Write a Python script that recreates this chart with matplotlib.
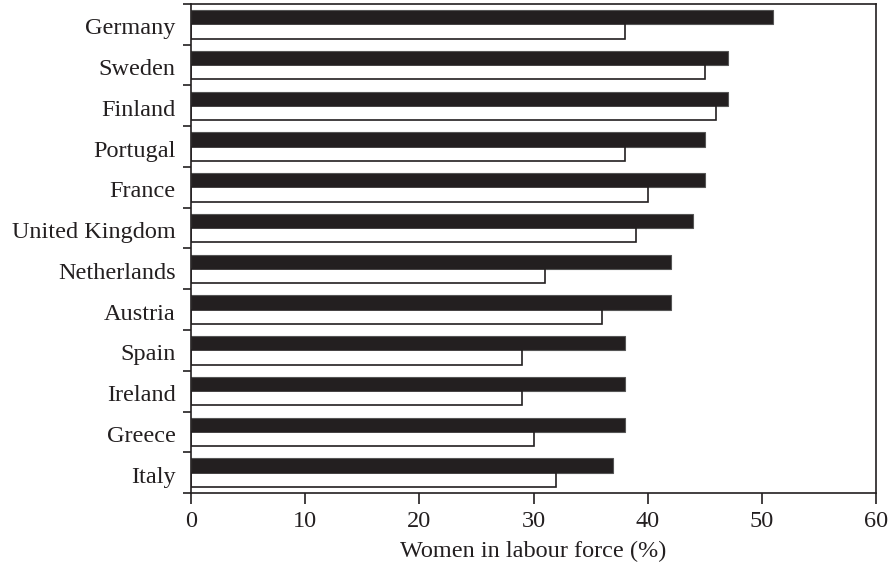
import numpy as np
import matplotlib
matplotlib.use("Agg")
import matplotlib.pyplot as plt
import matplotlib.transforms as mtransforms

# data (top to bottom)
countries = ["Germany", "Sweden", "Finland", "Portugal", "France",
             "United Kingdom", "Netherlands", "Austria", "Spain",
             "Ireland", "Greece", "Italy"]
black_vals = [51, 47, 47, 45, 45, 44, 42, 42, 38, 38, 38, 37]
white_vals = [38, 45, 46, 38, 40, 39, 31, 36, 29, 29, 30, 32]
xticks = [0, 10, 20, 30, 40, 50, 60]

plt.rcParams['font.family'] = ['Liberation Serif', 'DejaVu Serif']
ink = "#231f20"
fs = 17.5

fig = plt.figure(figsize=(8.92, 5.67), dpi=100)
ax = fig.add_axes([0.2141, 0.1305, 0.768, 0.8625])

n = len(countries)
y = np.arange(n)[::-1]  # Germany at top
h = 0.35

ax.barh(y + h / 2, black_vals, height=h, color=ink, edgecolor="#555555", linewidth=0.8)
ax.barh(y - h / 2, white_vals, height=h, color="white", edgecolor=ink, linewidth=1.2)

ax.set_xlim(0, 60)
ax.set_ylim(-0.5, n - 0.5)
ax.set_xticks(xticks)
ax.set_xticklabels([str(t) for t in xticks], fontsize=fs, color=ink)

# country labels at centres, ticks at group boundaries
ax.set_yticks(y)
ax.set_yticklabels(countries, fontsize=fs, color=ink)
ax.tick_params(axis='y', which='major', length=0, pad=11)
ax.set_yticks(np.arange(n + 1) - 0.5, minor=True)
ax.tick_params(axis='y', which='minor', length=6, width=1.2, color=ink)
ax.tick_params(axis='x', length=8, width=1.2, color=ink, pad=5)

# nudge country names down a touch
shift = mtransforms.ScaledTranslation(0, -2 / 100, fig.dpi_scale_trans)
for lab in ax.get_yticklabels():
    lab.set_transform(lab.get_transform() + shift)

for s in ax.spines.values():
    s.set_color(ink)
    s.set_linewidth(1.2)

ax.set_xlabel("Women in labour force (%)", fontsize=fs, color=ink, labelpad=6)

fig.savefig("out.png", dpi=100)
